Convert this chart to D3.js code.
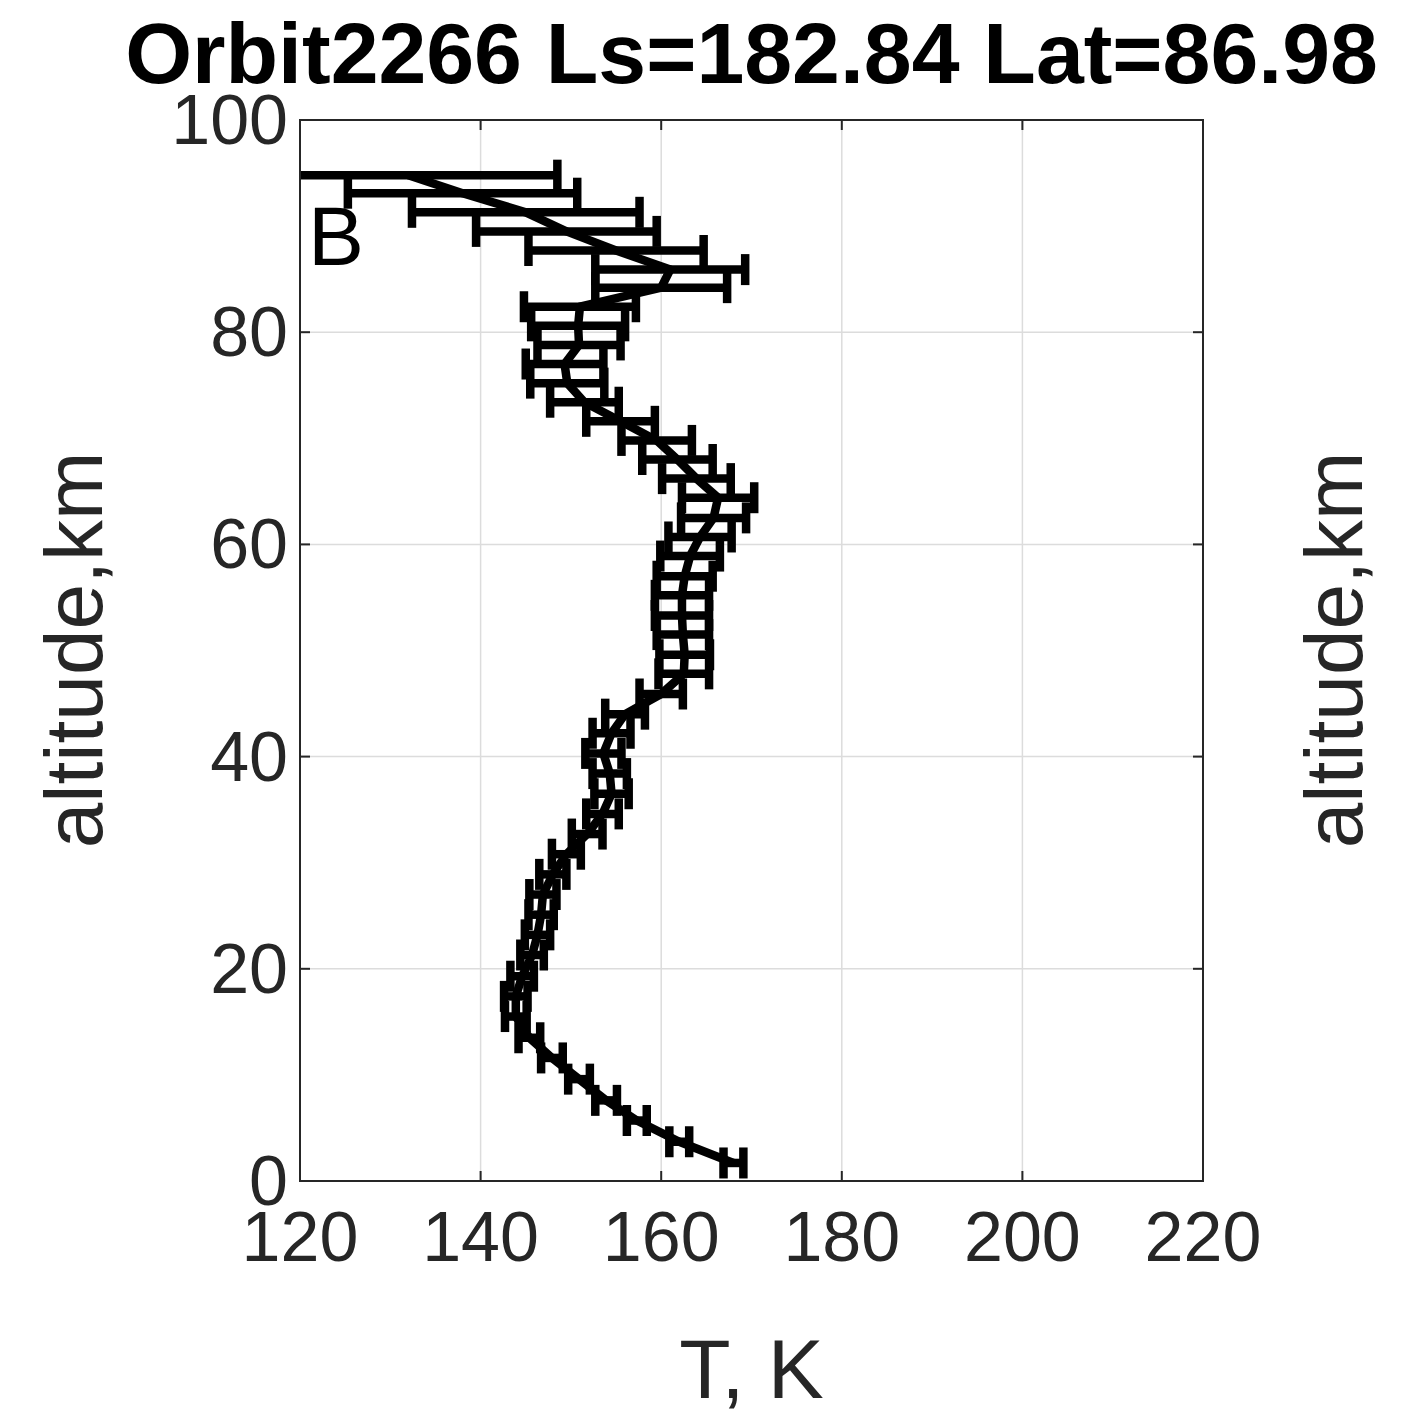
<!DOCTYPE html>
<html>
<head>
<meta charset="utf-8">
<script src="https://cdn.jsdelivr.net/npm/d3@7"></script>
<style>
  body { margin: 0; background: #fff; }
  svg text { font-family: "Liberation Sans", Arial, sans-serif; }
</style>
</head>
<body>
<svg id="chart" width="1403" height="1415"></svg>
<script>
// altitude grid, km
var altitudes = [1.7, 3.7, 5.7, 7.6, 9.6, 11.6, 13.5, 15.5, 17.4, 19.3,
  21.3, 23.2, 25.1, 27.0, 28.9, 30.8, 32.7, 34.6, 36.5, 38.4,
  40.3, 42.2, 44.0, 45.9, 47.8, 49.6, 51.5, 53.3, 55.2, 57.0,
  58.9, 60.7, 62.5, 64.4, 66.2, 68.0, 69.8, 71.6, 73.4, 75.2,
  77.0, 78.8, 80.6, 82.4, 84.2, 85.9, 87.7, 89.5, 91.3, 93.1, 94.8];
// temperature, K
var temps = [168.0, 162.0, 157.3, 153.9, 150.9, 147.9, 145.4, 143.9, 143.9, 144.6,
  145.7, 146.3, 146.7, 146.9, 148.0, 149.5, 151.8, 153.5, 154.5, 154.3,
  153.6, 154.5, 156.0, 160.0, 162.5, 162.6, 162.4, 162.3, 162.3, 162.6,
  163.2, 164.3, 165.8, 166.3, 163.9, 161.8, 159.5, 155.5, 151.5, 149.6,
  149.3, 150.9, 150.8, 151.0, 160.0, 161.0, 155.0, 149.5, 145.0, 138.0, 132.0];
// error, K
var errs = [1.1, 1.1, 1.1, 1.2, 1.2, 1.2, 1.2, 1.2, 1.3, 1.3,
  1.3, 1.4, 1.4, 1.5, 1.5, 1.6, 1.7, 1.8, 1.9, 1.9,
  2.0, 2.1, 2.2, 2.4, 2.8, 2.8, 2.9, 3.0, 3.0, 3.1,
  3.3, 3.5, 3.6, 4.0, 3.8, 3.9, 3.9, 3.8, 3.8, 4.1,
  4.3, 4.6, 5.2, 6.2, 7.3, 8.3, 9.7, 10.0, 12.6, 12.7, 16.5];
var xTicks = [120, 140, 160, 180, 200, 220];
var yTicks = [0, 20, 40, 60, 80, 100];
var titleText = "Orbit2266 Ls=182.84 Lat=86.98";

var margin = { top: 120, left: 300 };
var svg = d3.select('#chart');
var innerW = 903, innerH = 1061;
var axisColor = '#262626';

var x = d3.scaleLinear().domain([120, 220]).range([margin.left, margin.left + innerW]);
var y = d3.scaleLinear().domain([0, 100]).range([margin.top + innerH, margin.top]);

var data = altitudes.map(function(a, i) { return { alt: a, T: temps[i], e: errs[i] }; });

// grid
var grid = svg.append('g');
grid.selectAll('.gx').data(xTicks).enter().append('line')
  .attr('x1', d => x(d)).attr('x2', d => x(d))
  .attr('y1', y(0)).attr('y2', y(100))
  .attr('stroke', '#dcdcdc').attr('stroke-width', 1.5);
grid.selectAll('.gy').data(yTicks).enter().append('line')
  .attr('y1', d => y(d)).attr('y2', d => y(d))
  .attr('x1', x(120)).attr('x2', x(220))
  .attr('stroke', '#dcdcdc').attr('stroke-width', 1.5);

// clip for data
svg.append('defs').append('clipPath').attr('id', 'plotclip')
  .append('rect').attr('x', x(120)).attr('y', y(100))
  .attr('width', innerW).attr('height', innerH);

var plot = svg.append('g').attr('clip-path', 'url(#plotclip)');
var lw = 8.5, capH = 31;

// error bars
plot.selectAll('.eb').data(data).enter().append('path')
  .attr('d', d => 'M' + x(d.T - d.e) + ',' + y(d.alt) + 'H' + x(d.T + d.e))
  .attr('stroke', '#000').attr('stroke-width', lw).attr('fill', 'none');
plot.selectAll('.capl').data(data).enter().append('path')
  .attr('d', d => 'M' + x(d.T - d.e) + ',' + (y(d.alt) - capH / 2) + 'V' + (y(d.alt) + capH / 2))
  .attr('stroke', '#000').attr('stroke-width', lw);
plot.selectAll('.capr').data(data).enter().append('path')
  .attr('d', d => 'M' + x(d.T + d.e) + ',' + (y(d.alt) - capH / 2) + 'V' + (y(d.alt) + capH / 2))
  .attr('stroke', '#000').attr('stroke-width', lw);

// profile line
var line = d3.line().x(d => x(d.T)).y(d => y(d.alt));
plot.append('path').datum(data)
  .attr('d', line)
  .attr('stroke', '#000').attr('stroke-width', lw).attr('fill', 'none')
  .attr('stroke-linejoin', 'round');

// axes box
var tickLen = 10;
var ax = svg.append('g');
ax.append('rect').attr('x', x(120)).attr('y', y(100))
  .attr('width', innerW).attr('height', innerH)
  .attr('fill', 'none').attr('stroke', axisColor).attr('stroke-width', 2);

xTicks.forEach(function(t) {
  ax.append('line').attr('x1', x(t)).attr('x2', x(t)).attr('y1', y(0)).attr('y2', y(0) - tickLen)
    .attr('stroke', axisColor).attr('stroke-width', 2);
  ax.append('line').attr('x1', x(t)).attr('x2', x(t)).attr('y1', y(100)).attr('y2', y(100) + tickLen)
    .attr('stroke', axisColor).attr('stroke-width', 2);
  ax.append('text').attr('x', x(t)).attr('y', y(0) + 80)
    .attr('text-anchor', 'middle').attr('font-size', 70).attr('fill', axisColor)
    .text(t);
});
yTicks.forEach(function(t) {
  ax.append('line').attr('x1', x(120)).attr('x2', x(120) + tickLen).attr('y1', y(t)).attr('y2', y(t))
    .attr('stroke', axisColor).attr('stroke-width', 2);
  ax.append('line').attr('x1', x(220)).attr('x2', x(220) - tickLen).attr('y1', y(t)).attr('y2', y(t))
    .attr('stroke', axisColor).attr('stroke-width', 2);
  ax.append('text').attr('x', x(120) - 12).attr('y', y(t) + 24)
    .attr('text-anchor', 'end').attr('font-size', 70).attr('fill', axisColor)
    .text(t);
});

// labels
svg.append('text').attr('x', (x(120) + x(220)) / 2).attr('y', 1398)
  .attr('text-anchor', 'middle').attr('font-size', 84).attr('fill', axisColor)
  .text('T, K');
svg.append('text').attr('transform', 'translate(102,650) rotate(-90)')
  .attr('text-anchor', 'middle').attr('font-size', 82).attr('fill', axisColor)
  .text('altitude,km');
svg.append('text').attr('transform', 'translate(1362,650) rotate(-90)')
  .attr('text-anchor', 'middle').attr('font-size', 82).attr('fill', axisColor)
  .text('altitude,km');

// title
svg.append('text').attr('x', (x(120) + x(220)) / 2).attr('y', 83)
  .attr('text-anchor', 'middle').attr('font-size', 86).attr('font-weight', 'bold')
  .attr('fill', '#000')
  .text(titleText);

// panel letter
svg.append('text').attr('x', 308).attr('y', 265)
  .attr('font-size', 84).attr('fill', '#000')
  .text('B');
</script>
</body>
</html>
